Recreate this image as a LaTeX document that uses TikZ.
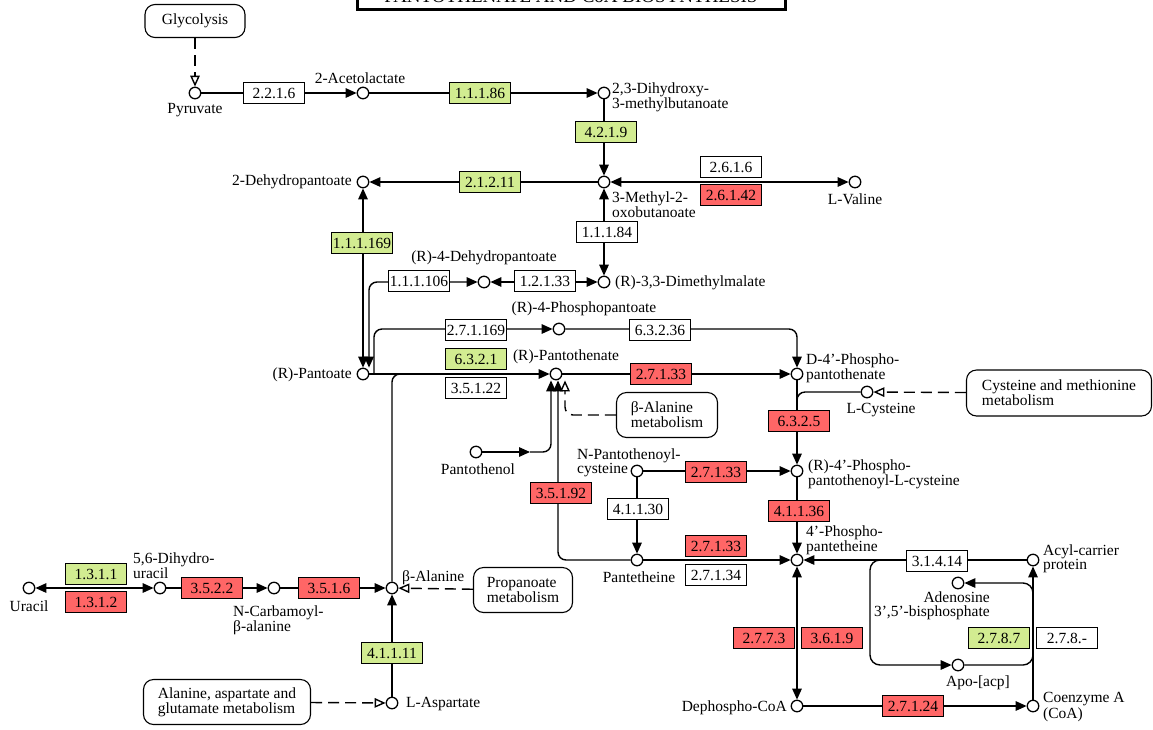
\documentclass[tikz,border=0pt]{standalone}
\usepackage{fontspec}
\setmainfont{Liberation Serif}
\usepackage{tikz}
\usetikzlibrary{arrows.meta,calc,positioning,backgrounds}
\definecolor{kgreen}{RGB}{210,236,145}
\definecolor{kred}{RGB}{255,102,102}
\newcommand{\kfont}{\fontsize{15.5}{14}\selectfont}
\tikzstyle{cpd} = [circle, draw, fill=white, line width=1.3pt, inner sep=0pt, minimum size=11.5pt]
\tikzstyle{enz} = [rectangle, draw, fill=white, line width=1.1pt, minimum width=61pt, minimum height=21pt, inner sep=0pt, font=\kfont]
\tikzstyle{enzg} = [enz, fill=kgreen]
\tikzstyle{enzr} = [enz, fill=kred]
\tikzstyle{mapbox} = [rectangle, draw, rounded corners=10pt, fill=white, line width=1.1pt, align=left, inner sep=0pt, font=\kfont]
\tikzstyle{lbl} = [inner sep=0pt, align=left, font=\kfont]
\tikzstyle{rxnline} = [line width=1.4pt]
\tikzstyle{arrow} = [rxnline, -{Triangle[length=11pt,width=9.5pt]}]
\tikzstyle{revarrow} = [rxnline, {Triangle[length=11pt,width=9.5pt]}-{Triangle[length=11pt,width=9.5pt]}]
\tikzstyle{maplink} = [rxnline, dash pattern=on 11pt off 6pt, -{Triangle[open,length=11pt,width=9.5pt]}]

\begin{document}
\begin{tikzpicture}[x=1pt, y=-1pt]

    \useasboundingbox (0,0) rectangle (1153,729);

    \node[draw, line width=3pt, minimum width=428pt, inner ysep=5pt, text depth=2pt,
        anchor=south, font=\fontsize{19}{19}\selectfont]
    (title) at (571,11) {PANTOTHENATE AND CoA BIOSYNTHESIS};

    % pathway maps
    \node[mapbox, minimum width=100pt, minimum height=33pt, align=center] (glyc) at (195,21) {Glycolysis};
    \node[mapbox, minimum width=101pt, minimum height=45pt] (balamap) at (667,415) {β-Alanine\\metabolism};
    \node[mapbox, minimum width=185pt, minimum height=46pt] (cysmap) at (1059,393) {Cysteine and methionine\\metabolism};
    \node[mapbox, minimum width=99pt, minimum height=45pt] (propmap) at (523,590) {Propanoate\\metabolism};
    \node[mapbox, minimum width=167pt, minimum height=45pt] (alamap) at (227,702) {Alanine, aspartate and\\glutamate metabolism};

    % compounds
    \node[cpd] (pyr) at (195,93) {};
    \node[cpd] (acetol) at (363,93) {};
    \node[cpd] (dihyd) at (604,93) {};
    \node[cpd] (mob) at (604,182) {};
    \node[cpd] (val) at (855,182) {};
    \node[cpd] (dhp) at (363,182) {};
    \node[cpd] (rdhp) at (484,282) {};
    \node[cpd] (dmm) at (604,282) {};
    \node[cpd] (pant) at (363,374) {};
    \node[cpd] (ppant) at (559,329) {};
    \node[cpd] (panto) at (556,374) {};
    \node[cpd] (dppanto) at (797,374) {};
    \node[cpd] (cys) at (867,392) {};
    \node[cpd] (pnol) at (476,452) {};
    \node[cpd] (npc) at (637,471) {};
    \node[cpd] (ppc) at (797,471) {};
    \node[cpd] (ptt) at (637,560) {};
    \node[cpd] (pptt) at (797,560) {};
    \node[cpd] (acp) at (1033,560) {};
    \node[cpd] (pap) at (958,583) {};
    \node[cpd] (apo) at (958,665) {};
    \node[cpd] (dpcoa) at (797,706) {};
    \node[cpd] (coa) at (1033,706) {};
    \node[cpd] (ura) at (29,588) {};
    \node[cpd] (dhu) at (160,588) {};
    \node[cpd] (ncb) at (274,588) {};
    \node[cpd] (bala) at (392,588) {};
    \node[cpd] (asp) at (392,703) {};

    % enzymes
    \node[enz] (e2216) at (274,93) {2.2.1.6};
    \node[enzg] (e11186) at (480,93) {1.1.1.86};
    \node[enzg] (e4219) at (606,132) {4.2.1.9};
    \node[enzg] (e21211) at (490,182) {2.1.2.11};
    \node[enz] (e2616) at (731,167) {2.6.1.6};
    \node[enzr] (e26142) at (731,195) {2.6.1.42};
    \node[enz] (e11184) at (607,232) {1.1.1.84};
    \node[enzg] (e111169) at (362,243) {1.1.1.169};
    \node[enz] (e111106) at (419,281) {1.1.1.106};
    \node[enz] (e12133) at (545,281) {1.2.1.33};
    \node[enz] (e271169) at (476,330) {2.7.1.169};
    \node[enz] (e63236) at (660,330) {6.3.2.36};
    \node[enzg] (e6321) at (476,359) {6.3.2.1};
    \node[enz] (e35122) at (476,388) {3.5.1.22};
    \node[enzr] (e27133a) at (661,374) {2.7.1.33};
    \node[enzr] (e6325) at (799,421) {6.3.2.5};
    \node[enzr] (e35192) at (561,493) {3.5.1.92};
    \node[enzr] (e27133b) at (716,472) {2.7.1.33};
    \node[enz] (e41130) at (638,509) {4.1.1.30};
    \node[enzr] (e41136) at (799,511) {4.1.1.36};
    \node[enzr] (e27133c) at (716,546) {2.7.1.33};
    \node[enz] (e27134) at (716,575) {2.7.1.34};
    \node[enz] (e31414) at (937,561) {3.1.4.14};
    \node[enzg] (e2787) at (999,638) {2.7.8.7};
    \node[enz] (e278x) at (1067,638) {2.7.8.-};
    \node[enzr] (e2773) at (764,638) {2.7.7.3};
    \node[enzr] (e3619) at (832,638) {3.6.1.9};
    \node[enzr] (e27124) at (913,706) {2.7.1.24};
    \node[enzg] (e1311) at (96,574) {1.3.1.1};
    \node[enzr] (e1312) at (96,602) {1.3.1.2};
    \node[enzr] (e3522) at (212,588) {3.5.2.2};
    \node[enzr] (e3516) at (329,588) {3.5.1.6};
    \node[enzg] (e41111) at (392,653) {4.1.1.11};

    % compound names
    \node[lbl] (pyrl) at (195,110) {Pyruvate};
    \node[lbl] (acetoll) at (360,78) {2-Acetolactate};
    \node[lbl, anchor=west] (dihydl) at (612,97) {2,3-Dihydroxy-\\3-methylbutanoate};
    \node[lbl, anchor=west] (mobl) at (612,205) {3-Methyl-2-\\oxobutanoate};
    \node[lbl] (vall) at (855,199) {L-Valine};
    \node[lbl, anchor=east] (dhpl) at (352,182) {2-Dehydropantoate};
    \node[lbl] (rdhpl) at (484,258) {(R)-4-Dehydropantoate};
    \node[lbl, anchor=west] (dmml) at (615,283) {(R)-3,3-Dimethylmalate};
    \node[lbl] (ppantl) at (584,309) {(R)-4-Phosphopantoate};
    \node[lbl, anchor=east] (pantl) at (352,375) {(R)-Pantoate};
    \node[lbl] (pantol) at (566,357) {(R)-Pantothenate};
    \node[lbl, anchor=west] (dppantol) at (806,368) {D-4'-Phospho-\\pantothenate};
    \node[lbl] (cysl) at (881,410) {L-Cysteine};
    \node[lbl] (pnoll) at (478,469) {Pantothenol};
    \node[lbl, anchor=west] (npcl) at (577,463) {N-Pantothenoyl-\\cysteine};
    \node[lbl, anchor=west] (ppcl) at (808,474) {(R)-4'-Phospho-\\pantothenoyl-L-cysteine};
    \node[lbl, anchor=west] (ppttl) at (806,540) {4'-Phospho-\\pantetheine};
    \node[lbl] (pttl) at (639,577) {Pantetheine};
    \node[lbl, anchor=west] (acpl) at (1043,559) {Acyl-carrier\\protein};
    \node[lbl, anchor=east, align=right] (papl) at (990,606) {Adenosine\\3',5'-bisphosphate};
    \node[lbl] (apol) at (978,683) {Apo-[acp]};
    \node[lbl, anchor=east] (dpcoal) at (787,708) {Dephospho-CoA};
    \node[lbl, anchor=west] (coal) at (1043,707) {Coenzyme A\\(CoA)};
    \node[lbl] (ural) at (29,606) {Uracil};
    \node[lbl, anchor=west] (dhul) at (133,566) {5,6-Dihydro-\\uracil};
    \node[lbl, anchor=west] (ncbl) at (233,620) {N-Carbamoyl-\\β-alanine};
    \node[lbl, anchor=west] (balal) at (402,578) {β-Alanine};
    \node[lbl, anchor=west] (aspl) at (406,704) {L-Aspartate};

    \coordinate (kjoin) at (374,374);
    \coordinate (bjoin) at (412,374);
    \coordinate (pmid) at (530,452);
    \coordinate (cjoin) at (797,410);
    \coordinate (ajoin) at (885,560);
    \coordinate (pjoin) at (1033,600);
    \coordinate (cjoin2) at (1033,650);

    \begin{scope}[on background layer]
    \fill[white] (0,0) rectangle (1153,729);

    \draw [maplink] (glyc) -- (pyr);
    \draw [arrow] (pyr) -- (acetol);
    \draw [arrow] (acetol) -- (dihyd);
    \draw [arrow] (dihyd) -- (mob);
    \draw [arrow] (mob) -- (dhp);
    \draw [revarrow] (mob) -- (val);
    \draw [revarrow] (mob) -- (dmm);
    \draw [revarrow] (rdhp) -- (dmm);
    \draw [revarrow] (dhp) -- (pant);
    \draw [revarrow, rounded corners=8pt] (rdhp) -| ([xshift=6pt]pant.north);
    \draw [arrow, rounded corners=8pt] (kjoin) |- (ppant);
    \draw [arrow, rounded corners=8pt] (ppant) -| (dppanto);
    \draw [arrow] (pant) -- (panto);
    \draw [arrow] (panto) -- (dppanto);
    \draw [rxnline, rounded corners=8pt] (bala) |- (bjoin);
    \draw [arrow] (pnol) -- (pmid);
    \draw [arrow, rounded corners=8pt] (pmid) -| ([xshift=-5pt]panto.south);
    \draw [arrow, rounded corners=8pt] (ptt) -| ([xshift=2pt]panto.south);
    \draw [maplink, rounded corners=8pt] (balamap) -| ([xshift=9pt]panto.south);

    \draw [arrow] (dppanto) -- (ppc);
    \draw [rxnline, rounded corners=8pt] (cys) -| (cjoin);
    \draw [maplink] (cysmap) -- (cys);
    \draw [arrow] (npc) -- (ppc);
    \draw [arrow] (npc) -- (ptt);
    \draw [arrow] (ptt) -- (pptt);
    \draw [arrow] (ppc) -- (pptt);
    \draw [revarrow] (pptt) -- (dpcoa);
    \draw [arrow] (dpcoa) -- (coa);
    \draw [arrow] (acp) -- (pptt);
    \draw [arrow, rounded corners=10pt] (ajoin) -- ++(-15,0) |- (apo);
    \draw [arrow] (coa) -- (acp);
    \draw [rxnline, rounded corners=10pt] (apo) -| (cjoin2);
    \draw [arrow, rounded corners=10pt] (pjoin) |- (pap);

    \draw [revarrow] (ura) -- (dhu);
    \draw [arrow] (dhu) -- (ncb);
    \draw [arrow] (ncb) -- (bala);
    \draw [arrow] (asp) -- (bala);
    \draw [maplink] (propmap) -- (bala);
    \draw [maplink] (alamap) -- (asp);
    \end{scope}

\end{tikzpicture}
\end{document}
